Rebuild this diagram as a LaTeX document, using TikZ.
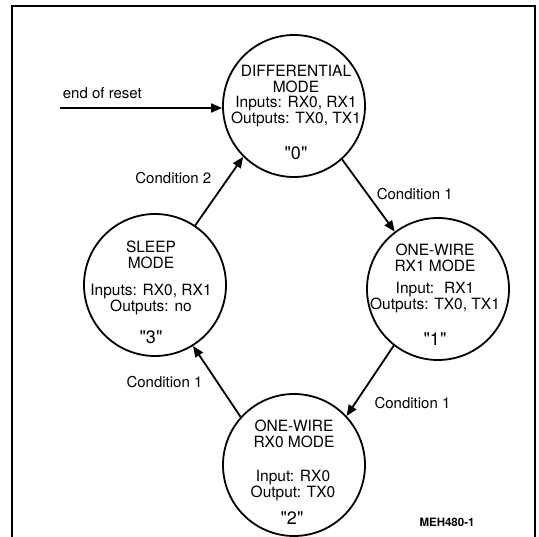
\documentclass[tikz,border=0pt]{standalone}
\usepackage{fontspec}
\setmainfont{TeX Gyre Heros}[Ligatures=TeXOff]
\usetikzlibrary{arrows.meta,positioning,calc}

\begin{document}
\begin{tikzpicture}[
        x=1pt, y=-1pt,
        state/.style={circle, draw=black, line width=1.8pt, minimum size=142pt, inner sep=0pt},
        title/.style={align=center, inner sep=1pt, font=\fontsize{15.5}{15.5}\selectfont},
        io/.style={align=center, inner sep=1pt, font=\fontsize{15.5}{16}\selectfont},
        num/.style={inner sep=1pt, font=\fontsize{18}{18}\selectfont},
        cond/.style={inner sep=2pt, font=\fontsize{15}{15}\selectfont},
        trans/.style={-{Triangle[length=11pt, width=9pt]}, line width=1.8pt},
        frame/.style={line width=1.8pt}
    ]
        \useasboundingbox (0,0) rectangle (539,537);

        % Frame
        \draw[frame] (12,537) -- (12,6) -- (535,6) -- (535,537);

        % States
        \node[state] (s0) at (294,106) {};
        \node[state] (s1) at (438,289) {};
        \node[state] (s2) at (294,465) {};
        \node[state] (s3) at (155,285) {};

        % State texts
        \node[title] (t0) at ($(s0)+(2,-27)$) {DIFFERENTIAL\\MODE};
        \node[io] (i0) at ($(s0)+(2,6)$) {Inputs: RX0, RX1\\Outputs: TX0, TX1};
        \node[num] (n0) at ($(s0)+(2,47)$) {"0"};

        \node[title] (t1) at ($(s1)+(-3,-31)$) {ONE-WIRE\\RX1 MODE};
        \node[io] (i1) at ($(s1)+(-3,9)$) {Input:~ RX1\\Outputs: TX0, TX1};
        \node[num] (n1) at ($(s1)+(-3,50)$) {"1"};

        \node[title] (t2) at ($(s2)+(0,-31)$) {ONE-WIRE\\RX0 MODE};
        \node[io] (i2) at ($(s2)+(-1,21)$) {Input: RX0\\Output: TX0};
        \node[num] (n2) at ($(s2)+(-2,53)$) {"2"};

        \node[title] (t3) at ($(s3)+(-4,-30)$) {SLEEP\\MODE};
        \node[io] (i3) at ($(s3)+(-4,15)$) {Inputs: RX0, RX1\\Outputs: no};
        \node[num] (n3) at ($(s3)+(-4,52)$) {"3"};

        % Reset entry
        \coordinate (rst) at (60,108);
        \draw[trans] (rst) -- (rst -| s0.west)
            node[cond, pos=0, anchor=south west, yshift=6pt] (er) {end of reset};

        % Transitions
        \draw[trans] (s3.56) -- (s0.225)
            node[cond, midway, anchor=east, xshift=-5pt, yshift=13.5pt] (c30) {Condition 2};

        \draw[trans] (s0.312) -- (s1.127)
            node[cond, midway, anchor=west, xshift=5.5pt, yshift=1.5pt] (c01) {Condition 1};

        \draw[trans] (s1.232) -- (s2.43)
            node[cond, midway, anchor=west, xshift=1.5pt, yshift=-22.5pt] (c12) {Condition 1};

        \draw[trans] (s2.138) -- (s3.302)
            node[cond, midway, anchor=east, xshift=-11.5pt, yshift=-0.5pt] (c23) {Condition 1};

        % Figure number
        \node[font=\bfseries\fontsize{11.5}{12}\selectfont] (fig) at (447,522) {MEH480-1};

    \end{tikzpicture}
\end{document}
